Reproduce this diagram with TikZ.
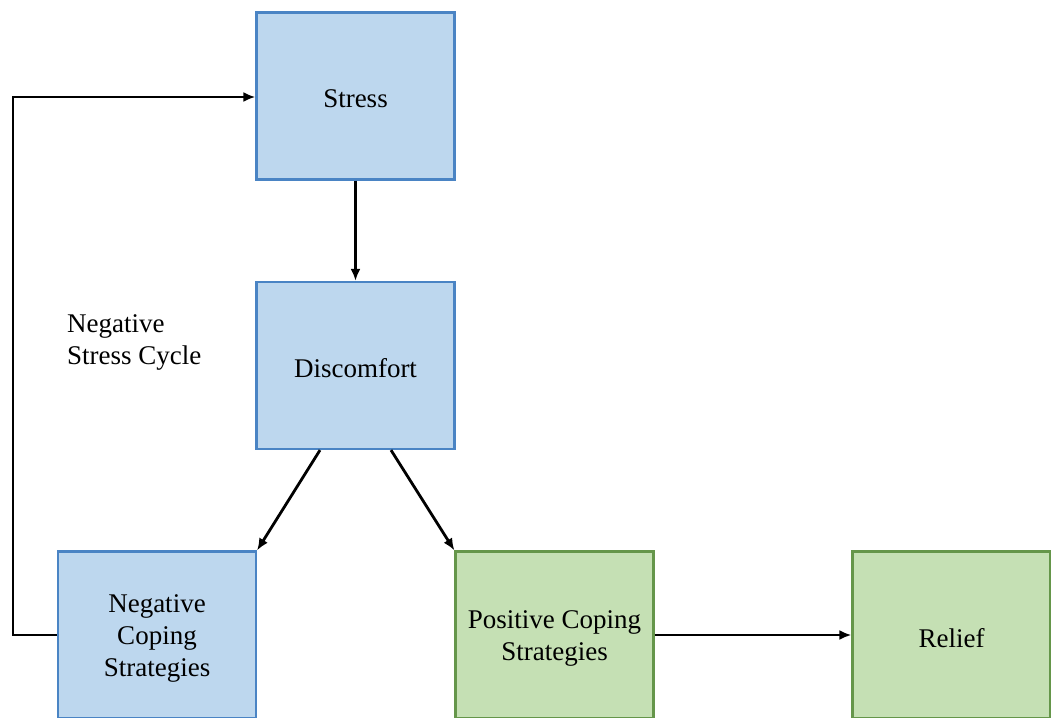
\documentclass[tikz,border=0pt]{standalone}
\usepackage{fontspec}
\setmainfont{Liberation Serif}
\usetikzlibrary{arrows.meta}
\definecolor{bluefill}{HTML}{BDD7EE}
\definecolor{blueline}{HTML}{4A84C4}
\definecolor{greenfill}{HTML}{C5E0B4}
\definecolor{greenline}{HTML}{65964A}
\newcommand{\boxfont}{\fontsize{27}{32}\selectfont}
\tikzset{
  box/.style={rectangle, minimum width=198pt, minimum height=167pt, line width=2.2pt, inner sep=0pt},
  boxtext/.style={label={[align=center, font=\boxfont, yshift=-3pt]center:#1}},
  bluebox/.style={box, fill=bluefill, draw=blueline},
  greenbox/.style={box, fill=greenfill, draw=greenline},
  flow/.style={line width=2.8pt, -{Latex[length=12pt,width=10pt]}}
}
\begin{document}
\begin{tikzpicture}[x=1pt,y=-1pt]
  \useasboundingbox (0,0) rectangle (1051,717);
  \clip (0,0) rectangle (1051,717);
  \node[bluebox, boxtext={Stress}] (stress) at (355.5,96) {};
  \node[bluebox, boxtext={Discomfort}] (disc) at (355.5,365.5) {};
  \node[bluebox, boxtext={Negative\\Coping\\Strategies}] (neg) at (157,635) {};
  \node[greenbox, boxtext={Positive Coping\\Strategies}] (pos) at (554.5,635) {};
  \node[greenbox, boxtext={Relief}] (relief) at (951.5,635) {};
  \node[align=left, anchor=west, font=\boxfont, inner sep=0pt] (label) at (67,342) {Negative\\Stress Cycle};
  \coordinate (loopbot) at (13,635);
  \coordinate (looptop) at (13,97);
  \draw[flow] (stress.south) -- (disc.north);
  \draw[flow] ([xshift=-35.5pt]disc.south) -- (neg.north east);
  \draw[flow] ([xshift=35.5pt]disc.south) -- (pos.north west);
  \draw[flow] (pos.east) -- (relief.west);
  \draw[flow] (neg.west) -- (loopbot) -- (looptop) -- (stress.west |- looptop);
\end{tikzpicture}
\end{document}
